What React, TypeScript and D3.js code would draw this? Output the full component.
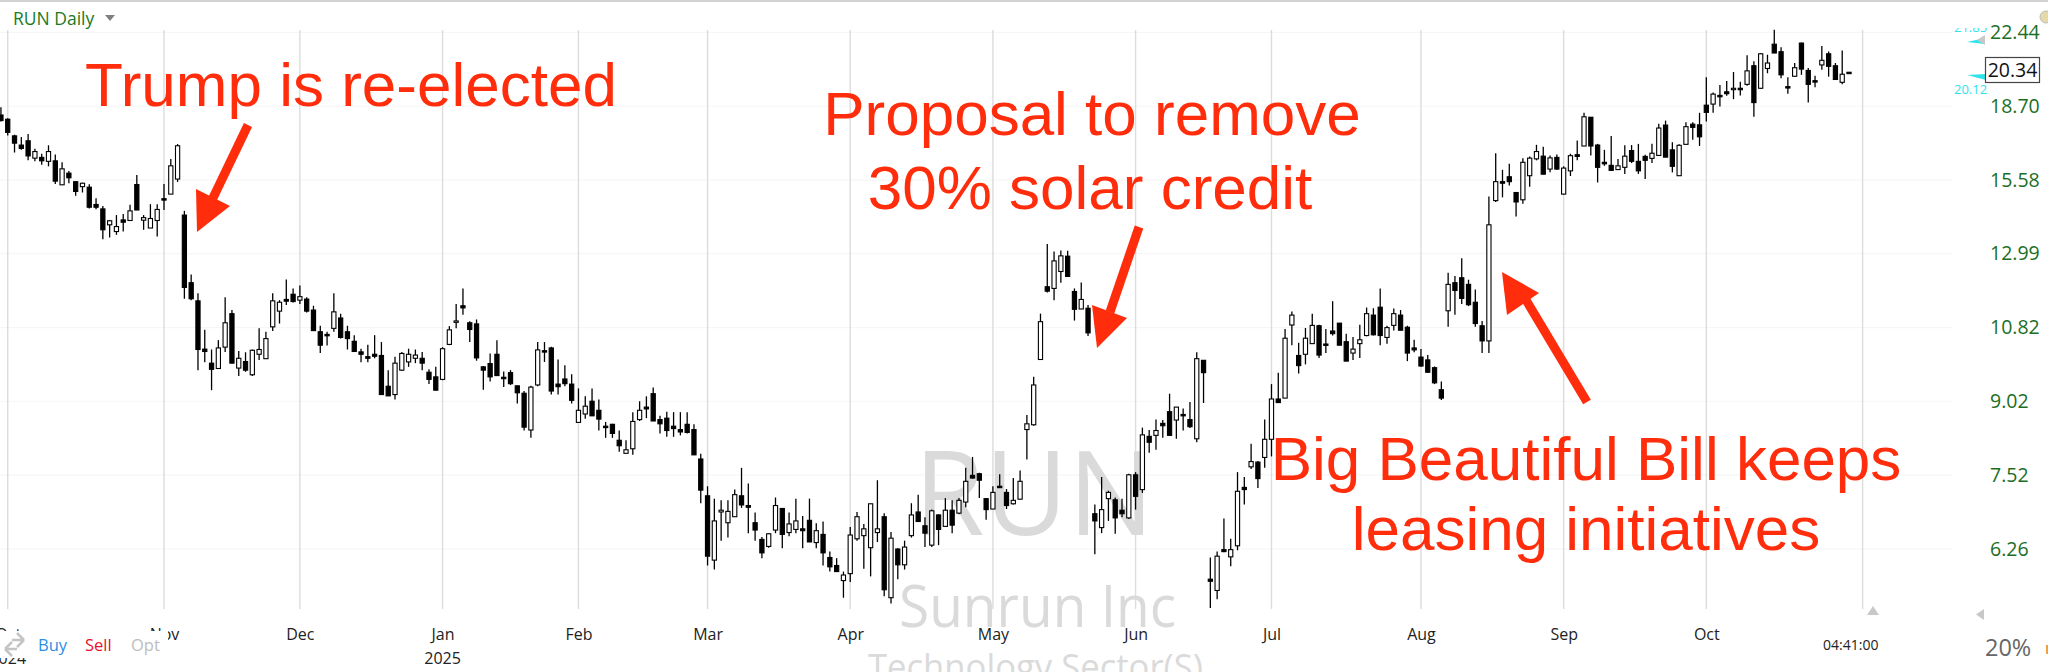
// App.tsx - RUN Daily candlestick chart with annotations
import React, { useEffect, useRef } from "react";
import * as d3 from "d3";

// each row: [open, high, low, close]
type Row = number[];

const sep24: Row[] = [[18.30, 18.66, 18.01, 18.05]];
const oct24: Row[] = [
  [18.11, 18.15, 17.40, 17.53], [17.38, 17.43, 16.68, 17.07], [16.99, 17.33, 16.79, 16.85], [17.17, 17.46, 16.36, 16.54],
  [16.45, 16.84, 16.32, 16.72], [16.48, 16.63, 16.18, 16.34], [16.32, 16.98, 16.12, 16.72], [16.34, 16.60, 15.43, 15.54],
  [15.40, 16.28, 15.40, 16.02], [15.85, 15.93, 15.46, 15.67], [15.52, 15.53, 14.99, 15.15], [15.33, 15.48, 15.11, 15.46],
  [15.31, 15.42, 14.52, 14.57], [14.67, 14.90, 14.50, 14.57], [14.51, 14.61, 13.46, 13.78], [13.95, 14.12, 13.52, 14.09],
  [13.72, 14.29, 13.61, 13.89], [14.12, 14.33, 13.72, 14.04], [14.10, 14.66, 14.10, 14.44], [15.41, 15.78, 14.47, 14.47],
  [14.11, 14.29, 13.78, 14.20], [13.84, 14.68, 13.84, 14.17], [14.10, 14.68, 13.55, 14.49],
];
const nov24: Row[] = [
  [14.88, 15.43, 14.47, 14.83], [15.05, 16.41, 15.05, 16.14], [15.62, 17.03, 15.51, 16.96], [14.29, 14.44, 11.62, 11.95],
  [12.09, 12.34, 11.58, 11.62], [11.56, 11.78, 9.74, 10.25], [10.26, 10.76, 9.93, 10.20], [9.91, 10.25, 9.27, 9.76],
  [9.78, 10.49, 9.78, 10.29], [10.31, 11.66, 10.19, 10.95], [11.20, 11.30, 9.91, 9.91], [9.79, 10.21, 9.60, 10.03],
  [9.95, 10.18, 9.70, 9.74], [9.63, 10.25, 9.60, 10.23], [10.13, 10.80, 9.99, 10.25], [10.02, 10.71, 10.02, 10.53],
  [10.84, 11.78, 10.73, 11.56], [11.27, 11.58, 10.93, 11.52], [11.60, 12.19, 11.44, 11.55], [11.75, 11.92, 11.51, 11.54],
];
const dec24: Row[] = [
  [11.58, 12.01, 11.47, 11.68], [11.61, 11.66, 11.23, 11.27], [11.30, 11.42, 10.73, 10.74], [10.71, 10.87, 10.16, 10.36],
  [10.64, 10.71, 10.35, 10.61], [10.80, 11.78, 10.71, 11.25], [11.08, 11.20, 10.53, 10.56], [10.71, 10.87, 10.25, 10.53],
  [10.46, 10.62, 10.19, 10.20], [10.19, 10.27, 9.93, 10.13], [10.07, 10.37, 9.93, 10.03], [10.13, 10.62, 10.03, 10.08],
  [10.10, 10.44, 9.17, 9.17], [9.36, 9.74, 9.14, 9.14], [9.17, 10.07, 9.06, 9.91], [9.74, 10.19, 9.72, 10.15],
  [9.94, 10.27, 9.82, 10.13], [10.03, 10.25, 9.91, 10.11], [10.03, 10.19, 9.74, 9.91], [9.69, 9.76, 9.41, 9.52],
  [9.58, 9.82, 9.26, 9.27],
];
const jan25: Row[] = [
  [9.52, 10.31, 9.50, 10.27], [10.38, 10.86, 10.36, 10.76], [10.98, 11.47, 10.80, 11.00], [11.42, 11.92, 11.17, 11.36],
  [10.95, 10.99, 10.44, 10.77], [10.92, 11.04, 9.97, 10.04], [9.82, 9.84, 9.28, 9.74], [9.90, 10.15, 9.47, 9.58],
  [10.13, 10.49, 9.61, 9.61], [9.57, 9.71, 9.34, 9.54], [9.68, 9.74, 9.39, 9.42], [9.37, 9.37, 8.97, 9.21],
  [9.20, 9.25, 8.39, 8.46], [8.40, 9.37, 8.24, 9.34], [9.39, 10.44, 9.36, 10.24], [10.22, 10.44, 9.94, 10.19],
  [10.29, 10.32, 9.17, 9.25], [9.41, 10.00, 9.17, 9.35], [9.53, 9.86, 9.36, 9.42], [9.41, 9.64, 8.97, 9.04],
];
const feb25: Row[] = [
  [8.56, 9.31, 8.56, 8.82], [8.74, 9.13, 8.64, 8.91], [9.02, 9.31, 8.70, 8.70], [8.82, 9.06, 8.39, 8.63],
  [8.48, 8.57, 8.24, 8.46], [8.52, 8.53, 8.24, 8.33], [8.19, 8.39, 7.96, 8.08], [7.93, 8.19, 7.93, 8.00],
  [8.02, 8.78, 7.90, 8.58], [8.62, 9.02, 8.59, 8.82], [8.89, 9.13, 8.65, 8.85], [9.19, 9.33, 8.59, 8.59],
  [8.62, 8.70, 8.33, 8.53], [8.65, 8.79, 8.26, 8.39], [8.48, 8.78, 8.26, 8.43], [8.41, 8.78, 8.29, 8.36],
  [8.52, 8.78, 8.33, 8.35], [8.41, 8.52, 7.90, 7.90], [7.82, 7.92, 7.01, 7.24],
];
const mar25: Row[] = [
  [7.14, 7.31, 6.01, 6.15], [6.09, 7.09, 5.95, 6.71], [6.86, 7.06, 6.39, 6.89], [6.68, 7.06, 6.44, 6.87],
  [6.78, 7.25, 6.78, 7.16], [7.14, 7.65, 6.93, 6.98], [6.97, 7.36, 6.51, 6.94], [6.68, 6.85, 6.39, 6.56],
  [6.41, 6.45, 6.12, 6.20], [6.30, 6.51, 6.28, 6.50], [6.56, 7.11, 6.51, 6.97], [6.92, 6.92, 6.27, 6.49],
  [6.52, 6.85, 6.46, 6.66], [6.57, 7.09, 6.51, 6.71], [6.58, 6.79, 6.27, 6.55], [6.72, 7.09, 6.37, 6.37],
  [6.36, 6.67, 6.27, 6.55], [6.49, 6.70, 6.01, 6.20], [6.13, 6.22, 5.92, 5.99], [6.01, 6.12, 5.92, 5.92],
  [5.79, 5.92, 5.55, 5.87],
];
const apr25: Row[] = [
  [5.89, 6.61, 5.77, 6.48], [6.42, 6.86, 6.39, 6.78], [6.47, 6.66, 5.96, 6.58], [6.28, 7.00, 5.85, 7.00],
  [6.52, 7.42, 6.37, 6.58], [6.78, 6.84, 5.57, 5.66], [5.55, 6.53, 5.47, 6.43], [6.26, 6.27, 5.81, 6.02],
  [6.02, 6.39, 5.95, 6.29], [6.47, 7.01, 6.44, 6.81], [6.86, 7.16, 6.69, 6.70], [6.63, 6.77, 6.29, 6.51],
  [6.32, 6.90, 6.29, 6.88], [6.81, 6.82, 6.32, 6.57], [6.62, 7.10, 6.62, 6.89], [6.89, 7.06, 6.51, 6.64],
  [6.84, 7.10, 6.82, 7.06], [7.03, 7.65, 6.94, 7.40], [7.51, 7.86, 7.45, 7.46], [7.54, 7.56, 7.10, 7.42],
  [7.09, 7.10, 6.73, 6.90],
];
const may25: Row[] = [
  [6.91, 7.31, 6.91, 7.20], [7.31, 7.53, 7.28, 7.29], [7.20, 7.26, 6.91, 6.97], [7.00, 7.46, 6.99, 7.06],
  [7.08, 7.60, 7.08, 7.40], [8.41, 8.72, 7.81, 8.53], [8.51, 9.58, 8.49, 9.39], [10.00, 11.20, 10.00, 10.98],
  [11.97, 13.30, 11.80, 11.84], [11.92, 13.06, 11.58, 12.76], [12.43, 13.09, 12.09, 12.92], [12.91, 13.08, 12.28, 12.28],
  [11.83, 11.92, 11.01, 11.32], [11.33, 12.10, 11.33, 11.60], [11.35, 11.44, 10.60, 10.68], [6.83, 6.99, 6.18, 6.71],
  [6.60, 7.48, 6.51, 6.90], [7.09, 7.23, 6.71, 7.20], [7.07, 7.11, 6.50, 6.76], [6.89, 7.09, 6.77, 6.83],
  [6.76, 7.54, 6.74, 7.52],
];
const jun25: Row[] = [
  [7.52, 7.57, 6.90, 7.13], [7.25, 8.45, 7.19, 8.30], [8.27, 8.40, 7.94, 8.15], [8.29, 8.62, 8.00, 8.39],
  [8.54, 8.61, 8.24, 8.49], [8.79, 9.19, 8.29, 8.29], [8.61, 8.89, 8.22, 8.89], [8.73, 8.86, 8.39, 8.71],
  [8.62, 9.00, 8.44, 8.47], [8.22, 10.18, 8.15, 10.02], [9.98, 9.98, 8.98, 9.68], [5.81, 6.13, 5.41, 5.78],
  [5.65, 6.22, 5.53, 6.15], [6.25, 6.75, 6.21, 6.22], [6.14, 6.42, 6.00, 6.25], [6.31, 7.57, 6.24, 7.22],
  [7.29, 7.48, 6.99, 7.25], [7.67, 8.12, 7.63, 7.77], [7.76, 7.78, 7.28, 7.45], [7.85, 8.62, 7.65, 8.21],
];
const jul25: Row[] = [
  [8.21, 9.41, 7.87, 9.07], [9.07, 9.68, 8.99, 8.99], [9.09, 10.78, 9.09, 10.54], [10.89, 11.26, 10.36, 11.16],
  [10.10, 10.42, 9.66, 9.85], [10.13, 10.81, 9.88, 10.54], [10.40, 11.20, 10.40, 10.88], [10.87, 10.90, 10.04, 10.11],
  [10.39, 10.78, 10.16, 10.36], [10.73, 11.55, 10.61, 10.66], [10.94, 10.94, 10.36, 10.36], [10.45, 10.66, 9.96, 9.96],
  [10.16, 10.57, 9.99, 10.26], [10.40, 10.90, 10.04, 10.50], [10.61, 11.37, 10.59, 11.20], [11.16, 11.35, 10.61, 10.63],
  [11.38, 11.92, 10.36, 10.61], [10.56, 10.87, 10.40, 10.82], [10.88, 11.34, 10.74, 11.20], [11.16, 11.30, 10.75, 10.75],
  [10.83, 10.87, 9.96, 10.16], [10.29, 10.50, 10.18, 10.24],
];
const aug25: Row[] = [
  [10.06, 10.26, 9.82, 9.84], [9.99, 10.11, 9.68, 9.69], [9.80, 9.83, 9.41, 9.44], [9.28, 9.47, 9.05, 9.09],
  [11.28, 12.39, 10.84, 12.04], [12.09, 12.29, 11.17, 11.86], [12.24, 12.84, 11.47, 11.63], [12.04, 12.18, 11.41, 11.45],
  [11.52, 11.89, 10.84, 10.93], [10.87, 11.00, 10.16, 10.47], [10.47, 14.96, 10.16, 13.95], [14.81, 16.65, 14.76, 15.52],
  [15.52, 15.98, 14.93, 15.46], [15.71, 16.22, 15.37, 15.52], [15.11, 15.11, 14.24, 14.76], [14.84, 16.45, 14.70, 16.28],
  [15.75, 16.52, 15.33, 16.45], [16.42, 17.00, 16.36, 16.72], [16.53, 16.92, 15.81, 15.81], [16.01, 16.56, 15.89, 16.46],
  [16.48, 16.60, 15.98, 16.01],
];
const sep25: Row[] = [
  [15.05, 16.12, 15.03, 16.05], [15.94, 16.63, 15.74, 16.55], [16.59, 17.18, 16.36, 16.52], [16.95, 18.40, 16.95, 18.22],
  [18.20, 18.20, 16.56, 16.95], [16.99, 17.04, 15.49, 16.08], [16.28, 16.79, 16.14, 16.22], [16.16, 17.38, 15.93, 15.96],
  [15.99, 16.41, 15.98, 16.14], [16.08, 16.98, 15.82, 16.53], [16.76, 16.99, 16.25, 16.32], [16.32, 17.04, 15.82, 15.94],
  [16.52, 16.59, 15.62, 16.36], [16.44, 17.04, 16.25, 16.65], [16.56, 17.91, 16.56, 17.72], [17.85, 18.05, 16.49, 16.49],
  [16.79, 17.11, 15.88, 16.12], [15.75, 17.02, 15.75, 16.98], [17.02, 17.98, 17.02, 17.78], [17.89, 17.98, 17.21, 17.75],
  [17.86, 18.40, 16.95, 17.34],
];
const oct25: Row[] = [
  [18.75, 20.09, 18.01, 18.42], [18.80, 19.35, 18.40, 19.27], [19.21, 19.71, 18.69, 19.16], [19.38, 19.90, 19.19, 19.29],
  [19.52, 20.35, 19.03, 19.55], [19.55, 19.87, 19.21, 19.48], [19.74, 21.21, 19.67, 20.41], [20.67, 20.90, 18.22, 18.87],
  [19.55, 21.33, 19.52, 21.29], [20.53, 21.24, 20.29, 20.81], [21.80, 22.60, 21.33, 21.33], [21.40, 21.64, 20.04, 20.21],
  [19.63, 20.09, 19.29, 19.59], [20.14, 20.81, 20.12, 20.57], [21.86, 21.89, 20.21, 20.50], [20.43, 20.55, 18.87, 19.74],
  [19.92, 20.16, 19.60, 19.89], [20.71, 21.70, 20.47, 20.95], [21.29, 21.41, 20.12, 20.64], [20.67, 20.81, 19.98, 19.98],
  [19.84, 21.46, 19.74, 20.24], [20.34, 20.34, 20.34, 20.34],
];

const months = [sep24, oct24, nov24, dec24, jan25, feb25, mar25, apr25, may25, jun25, jul25, aug25, sep25, oct25];
const monthNames = ["", "Oct", "Nov", "Dec", "Jan", "Feb", "Mar", "Apr", "May", "Jun", "Jul", "Aug", "Sep", "Oct"];
const yearLabels: Record<string, string> = { 1: "2024", 4: "2025" };
const priceTicks = [22.44, 18.7, 15.58, 12.99, 10.82, 9.02, 7.52, 6.26];

const RED = "#ff2d0c";
const FONT = "'Open Sans', sans-serif";
const GREY_MARK = "#dadada";
const CYAN = "#2de4ea";

export default function App() {
  const ref = useRef<SVGSVGElement>(null);

  useEffect(() => {
    const svg = d3.select(ref.current);
    svg.selectAll("*").remove();

    const candles = months.flat();
    const starts: number[] = [];
    months.reduce((n, m) => {
      starts.push(n);
      return n + m.length;
    }, 0);

    const x = d3.scaleLinear().domain([24, 274]).range([164, 1862.6]);
    const y = d3.scaleLog().domain([6.26, 22.44]).range([549, 32.5]);

    const tickIdx = starts.slice(1).concat(starts[13] + 23);
    const labelIdx = starts.slice(1);

    svg.append("rect").attr("width", 2048).attr("height", 672).attr("fill", "#fff");
    svg.append("line").attr("x1", 0).attr("x2", 2048).attr("y1", 1).attr("y2", 1).attr("stroke", "#c4c4c4").attr("stroke-width", 1.5);

    // grid
    svg.append("g").selectAll("line").data(priceTicks).join("line")
      .attr("x1", 0).attr("x2", 1952)
      .attr("y1", d => y(d)).attr("y2", d => y(d))
      .attr("stroke", "#f6f6f6").attr("stroke-width", 1.2);
    svg.append("g").selectAll("line").data(tickIdx).join("line")
      .attr("x1", d => x(d)).attr("x2", d => x(d))
      .attr("y1", 30).attr("y2", 609)
      .attr("stroke", "#dcdcdc").attr("stroke-width", 1.4);

    // watermark
    const mark = svg.append("g").attr("fill", GREY_MARK).attr("font-family", FONT);
    mark.append("text").attr("x", 914).attr("y", 535).attr("font-size", 118)
      .attr("textLength", 240).attr("lengthAdjust", "spacingAndGlyphs").text("RUN");
    mark.append("text").attr("x", 899).attr("y", 627).attr("font-size", 58)
      .attr("textLength", 277).attr("lengthAdjust", "spacingAndGlyphs").text("Sunrun Inc");
    mark.append("text").attr("x", 868).attr("y", 680).attr("font-size", 36)
      .attr("textLength", 335).attr("lengthAdjust", "spacingAndGlyphs").text("Technology Sector(S)");

    // candles
    const bodyW = 4.2;
    const candle = svg.append("g").selectAll("g").data(candles).join("g")
      .attr("transform", (_, i) => `translate(${x(i)},0)`);
    candle.append("line")
      .attr("y1", d => y(d[1])).attr("y2", d => y(d[2]))
      .attr("stroke", "#000").attr("stroke-width", 1.3);
    candle.append("rect")
      .attr("x", -bodyW / 2).attr("width", bodyW)
      .attr("y", d => y(Math.max(d[0], d[3])))
      .attr("height", d => Math.max(1.4, Math.abs(y(d[0]) - y(d[3]))))
      .attr("fill", d => (d[3] > d[0] ? "#fff" : "#000"))
      .attr("stroke", "#000").attr("stroke-width", 1.1);

    // price axis
    const axisY = svg.append("g").attr("transform", "translate(1990,0)")
      .call(d3.axisRight(y).tickValues(priceTicks).tickFormat(d3.format(".2f")).tickSize(0).tickPadding(0));
    axisY.select(".domain").remove();
    axisY.selectAll("text").attr("font-family", FONT).attr("font-size", 19.5).attr("fill", "#1c6e25");

    // date axis
    const axisX = svg.append("g").attr("transform", "translate(0,629)")
      .call(d3.axisBottom(x).tickValues(labelIdx)
        .tickFormat((_, i) => monthNames[i + 1]).tickSize(0).tickPadding(0));
    axisX.select(".domain").remove();
    axisX.selectAll("text").attr("font-family", FONT).attr("font-size", 16).attr("fill", "#222");
    Object.keys(yearLabels).forEach(k => {
      svg.append("text").attr("x", x(starts[+k])).attr("y", 664).attr("text-anchor", "middle")
        .attr("font-family", FONT).attr("font-size", 16).attr("fill", "#222").text(yearLabels[k]);
    });

    // buy / sell strip covers the first labels
    svg.append("rect").attr("x", 0).attr("y", 631).attr("width", 168).attr("height", 27).attr("fill", "#fff");
    svg.append("path").attr("d", "M5 649 L12 642 M5 649 L12 656 M5 649 L17 649 M24 640 L17 633 M24 640 L17 647 M24 640 L12 640")
      .attr("fill", "none").attr("stroke", "#c4c4c4").attr("stroke-width", 2.5);
    const trade = svg.append("g").attr("font-family", FONT).attr("font-size", 16.5);
    trade.append("text").attr("x", 38).attr("y", 651).attr("fill", "#2b8fe3").text("Buy");
    trade.append("text").attr("x", 85).attr("y", 651).attr("fill", "#e8112d").text("Sell");
    trade.append("text").attr("x", 131).attr("y", 651).attr("fill", "#bdbdbd").text("Opt");

    // header
    svg.append("text").attr("x", 13).attr("y", 25).attr("font-family", FONT).attr("font-size", 17.5)
      .attr("fill", "#1a7a1f").text("RUN Daily");
    svg.append("path").attr("d", "M105 15 L115 15 L110 21 Z").attr("fill", "#808080");

    // price markers on the right
    svg.append("clipPath").attr("id", "topMarker").append("rect")
      .attr("x", 1950).attr("y", 28).attr("width", 40).attr("height", 12);
    svg.append("text").attr("x", 1954).attr("y", 32).attr("clip-path", "url(#topMarker)")
      .attr("font-family", FONT).attr("font-size", 13).attr("fill", CYAN).text("21.85");
    svg.append("path").attr("d", "M1967 42 L1985 38 L1985 44 Z").attr("fill", CYAN);
    svg.append("path").attr("d", "M1977 40 L1985 35 L1985 45 Z").attr("fill", "#c8c8c8");
    svg.append("path").attr("d", "M1967 75 L1986 74 L1986 80 Z").attr("fill", CYAN);
    svg.append("text").attr("x", 1954).attr("y", 94).attr("font-family", FONT).attr("font-size", 13)
      .attr("fill", CYAN).text("20.12");
    svg.append("rect").attr("x", 1985.5).attr("y", 57.5).attr("width", 54).attr("height", 25)
      .attr("fill", "#fff").attr("stroke", "#444").attr("stroke-width", 1.2);
    svg.append("text").attr("x", 2012.5).attr("y", 77).attr("text-anchor", "middle")
      .attr("font-family", FONT).attr("font-size", 19.5).attr("fill", "#111").text("20.34");
    svg.append("circle").attr("cx", 2046).attr("cy", 17).attr("r", 6).attr("fill", "#e6d9a8").attr("stroke", "#bbb");

    // bottom right
    svg.append("path").attr("d", "M1867 615 L1879 615 L1873 606 Z").attr("fill", "#c8c8c8");
    svg.append("path").attr("d", "M1984 609 L1984 620 L1976 614.5 Z").attr("fill", "#c8c8c8");
    svg.append("text").attr("x", 1823).attr("y", 650).attr("font-family", FONT).attr("font-size", 14)
      .attr("fill", "#222").text("04:41:00");
    svg.append("text").attr("x", 1985).attr("y", 656).attr("font-family", FONT).attr("font-size", 23.5)
      .attr("fill", "#666").text("20%");
    svg.append("rect").attr("x", 2046).attr("y", 645).attr("width", 2).attr("height", 9).attr("fill", "#f0a040");

    // annotations
    const note = svg.append("g").attr("font-family", "'Liberation Sans', Arial, sans-serif")
      .attr("font-size", 62).attr("fill", RED).attr("text-anchor", "middle");
    note.append("text").attr("x", 351).attr("y", 106).text("Trump is re-elected");
    note.append("text").attr("x", 1092).attr("y", 135).text("Proposal to remove");
    note.append("text").attr("x", 1090).attr("y", 209).text("30% solar credit");
    note.append("text").attr("x", 1586).attr("y", 480).text("Big Beautiful Bill keeps");
    note.append("text").attr("x", 1586).attr("y", 550).text("leasing initiatives");

    const arrows = svg.append("g").attr("stroke", RED).attr("fill", RED);
    arrows.append("line").attr("x1", 248).attr("y1", 125).attr("x2", 212).attr("y2", 200).attr("stroke-width", 9);
    arrows.append("path").attr("d", "M196 189 L230 206 L197 232 Z").attr("stroke", "none");
    arrows.append("line").attr("x1", 1139).attr("y1", 227).attr("x2", 1110).attr("y2", 312).attr("stroke-width", 9);
    arrows.append("path").attr("d", "M1092 305 L1127 318 L1097 348 Z").attr("stroke", "none");
    arrows.append("line").attr("x1", 1587).attr("y1", 402).attr("x2", 1523).attr("y2", 295).attr("stroke-width", 9);
    arrows.append("path").attr("d", "M1502 272 L1539 293 L1507 315 Z").attr("stroke", "none");
  }, []);

  return (
    <svg
      ref={ref}
      width={2048}
      height={672}
      style={{ position: "absolute", left: 0, top: 0, display: "block" }}
    />
  );
}
